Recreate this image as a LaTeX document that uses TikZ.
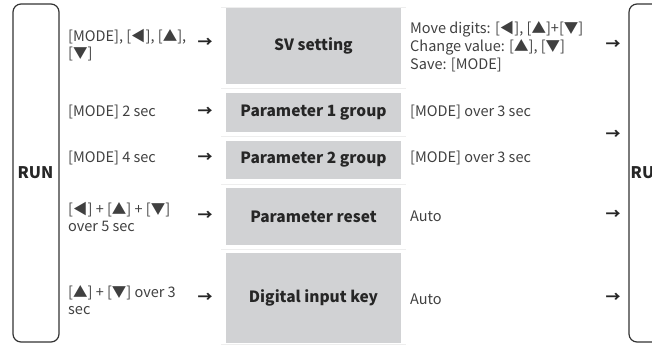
\documentclass[tikz,border=0pt]{standalone}
\usepackage{fontspec}
\setmainfont{Noto Sans CJK SC}
\usepackage{tikz}
\usetikzlibrary{positioning}
\definecolor{boxgray}{HTML}{D1D2D4}
\definecolor{txtgray}{HTML}{404040}
\definecolor{sepgray}{HTML}{EEEEEE}
\tikzstyle{runbox} = [draw=black!80, line width=1.2pt, rounded corners=8pt]
\tikzstyle{mbox} = [fill=boxgray, minimum width=175pt, inner sep=0pt, font=\fontsize{15.5}{17}\selectfont\bfseries, text=black!85]
\tikzstyle{cond} = [anchor=west, align=left, inner sep=0pt, font=\fontsize{14.5}{17}\selectfont, text=txtgray]
\tikzstyle{arr} = [inner sep=0pt, font=\fontsize{15}{17}\selectfont\bfseries, text=black!85]
\tikzstyle{sep} = [draw=sepgray, line width=0.8pt]

\begin{document}
\begin{tikzpicture}[x=1pt, y=-1pt]
			\useasboundingbox (0,0) rectangle (652,346);
			\clip (0,0) rectangle (652,346);

			% RUN on both sides
			\draw [runbox] (13,4) rectangle (59,342);
			\node [font=\fontsize{16}{18}\selectfont\bfseries, text=black!85] (runL) at (35.5,173) {RUN};
			\draw [runbox] (629,4) rectangle (690,342);
			\node [anchor=west, inner sep=1.5pt, font=\fontsize{16}{18}\selectfont\bfseries, text=black!85] (runR) at (629,173) {RUN};

			% separators
			\path [sep] (221,7) -- (406,7);
			\path [sep] (221,88.5) -- (406,88.5);
			\path [sep] (221,136.5) -- (406,136.5);
			\path [sep] (221,184) -- (406,184);
			\path [sep] (221,249) -- (406,249);
			\path [sep] (221,344.5) -- (406,344.5);

			% modes
			\node [mbox, minimum height=76pt] (sv) at (313.5,46) {SV setting};
			\node [mbox, minimum height=39pt] (p1) at (313.5,112.5) {Parameter 1 group};
			\node [mbox, minimum height=38pt] (p2) at (313.5,160) {Parameter 2 group};
			\node [mbox, minimum height=57pt] (reset) at (313.5,216.5) {Parameter reset};
			\node [mbox, minimum height=90pt] (din) at (313.5,298) {Digital input key};

			% entering keys
			\node [cond] (k1) at (68,45) {[MODE], [◀], [▲],\\{}[▼]};
			\node [cond] (k2) at (68,112) {[MODE] 2 sec};
			\node [cond] (k3) at (68,158) {[MODE] 4 sec};
			\node [cond] (k4) at (68,217) {[◀] + [▲] + [▼]\\over 5 sec};
			\node [cond] (k5) at (68,300) {[▲] + [▼] over 3\\sec};

			\node [arr] (a1) at (205,43) {→};
			\node [arr] (a2) at (205,112) {→};
			\node [arr] (a3) at (205,158) {→};
			\node [arr] (a4) at (205,216) {→};
			\node [arr] (a5) at (205,298) {→};

			% leaving keys
			\node [cond, font=\fontsize{14.5}{18}\selectfont] (e1) at (410,47) {Move digits: [◀], [▲]+[▼]\\Change value: [▲], [▼]\\Save: [MODE]};
			\node [cond] (e2) at (410,112) {[MODE] over 3 sec};
			\node [cond] (e3) at (410,158) {[MODE] over 3 sec};
			\node [cond] (e4) at (410,216) {Auto};
			\node [cond] (e5) at (410,299) {Auto};

			\node [arr] (b1) at (613,45) {→};
			\node [arr] (b2) at (613,135) {→};
			\node [arr] (b3) at (613,215) {→};
			\node [arr] (b4) at (613,298) {→};
		\end{tikzpicture}
\end{document}
